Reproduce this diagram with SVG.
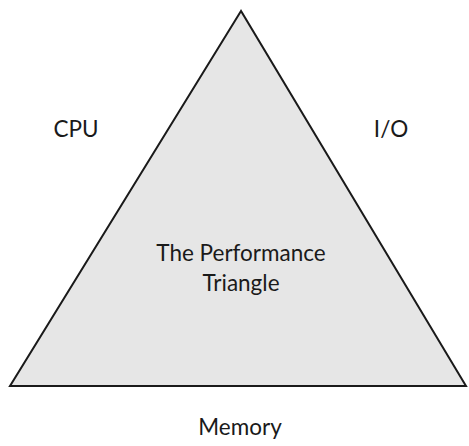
<svg xmlns="http://www.w3.org/2000/svg" width="469" height="446" viewBox="0 0 469 446">
  <style>
    .lbl { font-family: Lato, "Open Sans", "DejaVu Sans", sans-serif; font-size: 22.5px; fill: #1a1a1a; text-anchor: middle; }
    .tri { fill: #e6e6e6; stroke: #1a1a1a; stroke-width: 2; stroke-linejoin: miter; }
  </style>
  <rect width="469" height="446" fill="#ffffff"/>
  <g id="triangle">
    <polygon class="tri" points="241,11 10,386 466,386"/>
    <text class="lbl" x="241" y="261">The Performance</text>
    <text class="lbl" x="241" y="291">Triangle</text>
  </g>
  <g id="cpu">
    <text class="lbl" x="76" y="137">CPU</text>
  </g>
  <g id="io">
    <text class="lbl" x="391" y="137">I/O</text>
  </g>
  <g id="memory">
    <text class="lbl" x="240" y="435">Memory</text>
  </g>
</svg>
